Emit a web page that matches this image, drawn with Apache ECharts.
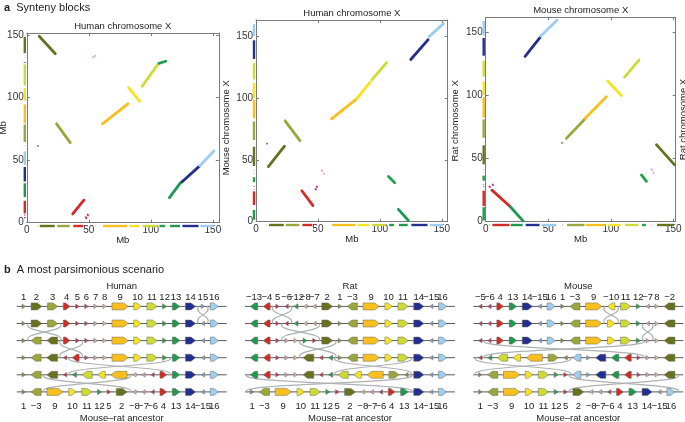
<!DOCTYPE html>
<html>
<head>
<meta charset="utf-8">
<script src="https://cdn.jsdelivr.net/npm/echarts@6/dist/echarts.min.js"></script>
<style>
html, body { margin: 0; padding: 0; background: #fff; }
#main { width: 685px; height: 422px; }
</style>
</head>
<body>
<div id="main"></div>
<script>
// synteny blocks 1..16 : drawn length in panel b (arbitrary units)
var blockLen = [10, 32, 30, 20, 10, 10, 10, 10, 48, 22, 30, 12, 22, 30, 10, 24];
var blockColor = ['#8e8a62', '#66721f', '#9ca63c', '#d22a26', '#cc2d4f', '#c4357c', '#d9a3c4', '#ebb8ae',
                  '#f8bf1f', '#f6e424', '#cedb34', '#22a04c', '#1e9a50', '#232f8e', '#8da2c8', '#9dcdf0'];

// panel a, dot plots: [block, x1, y1, x2, y2] in Mb
var humanMouse = [
    [2, 10, 149, 23, 135], [3, 24, 79, 35, 64], [4, 37, 7, 46, 18],
    [5, 47.5, 4.5, 48, 3.6], [6, 49, 6.5, 49.4, 5.8], [1, 8.7, 61.5, 9.1, 61.3],
    [7, 53.5, 132.5, 53.9, 132.1], [8, 55, 133.6, 55.4, 133.2],
    [9, 61, 79, 81.5, 95], [10, 82, 108, 91, 97], [11, 93, 109, 106, 127], [12, 106.5, 127.3, 112, 129],
    [13, 115, 20, 124, 32], [14, 125, 32.5, 139, 45], [16, 139.5, 45.5, 151, 57.5]
];
var humanRat = [
    [13, 115, 10, 123, 1], [4, 37, 25, 46, 13], [5, 48, 26.5, 48.4, 26], [6, 49, 28.5, 49.4, 28],
    [12, 107, 36.5, 112, 31.5], [7, 53, 41.5, 53.4, 41], [8, 54.6, 39, 55, 38.5],
    [2, 10, 44.5, 23, 61], [1, 8.6, 63, 9, 63.2], [3, 23.5, 81.5, 35.5, 65.5],
    [9, 61, 83, 81, 99], [10, 81.5, 99.5, 92, 112.5], [11, 93.5, 114.5, 105.5, 128.5],
    [14, 125, 131, 139, 147], [16, 139.8, 149.5, 151.4, 160]
];
var mouseRat = [
    [4, 5, 25, 19.5, 12], [13, 19.5, 12, 30, 0.5], [5, 3, 28, 3.4, 27.5], [6, 5.5, 29.5, 5.9, 29],
    [14, 31.5, 131, 43.5, 146], [16, 44, 147, 57, 159.5], [1, 61, 62.3, 61.4, 62.5],
    [3, 64.5, 66, 79.5, 81.5], [9, 79.5, 82, 96.5, 99], [10, 97.5, 111.5, 108.5, 100],
    [11, 111, 114.5, 122.5, 128], [12, 124.5, 37, 128.5, 32],
    [7, 132.5, 41.5, 132.9, 41], [8, 134, 39, 134.4, 38.5], [2, 136.5, 61, 151, 45]
];
var dotTicks = [0, 50, 100, 150];

// panel b, block order of each step (top row = species, bottom row = ancestor)
var humanRows = [
    [1, 2, 3, 4, 5, 6, 7, 8, 9, 10, 11, 12, 13, 14, 15, 16],
    [1, 2, 3, 4, 5, 6, 7, 8, 9, 10, 11, 12, 13, 14, -15, 16],
    [1, -3, -2, 4, 5, 6, 7, 8, 9, 10, 11, 12, 13, 14, -15, 16],
    [1, -3, -2, -5, -4, 6, 7, 8, 9, 10, 11, 12, 13, 14, -15, 16],
    [1, -3, -2, -5, -12, -11, -10, -9, -8, -7, -6, 4, 13, 14, -15, 16],
    [1, -3, 9, 10, 11, 12, 5, 2, -8, -7, -6, 4, 13, 14, -15, 16]
];
var ratRows = [
    [-13, -4, 5, -6, -12, -8, -7, 2, 1, -3, 9, 10, 11, 14, -15, 16],
    [-13, -4, 6, -5, -12, -8, -7, 2, 1, -3, 9, 10, 11, 14, -15, 16],
    [-13, -4, 6, 7, 8, 12, 5, 2, 1, -3, 9, 10, 11, 14, -15, 16],
    [-13, -4, 6, 7, 8, -2, -5, -12, 1, -3, 9, 10, 11, 14, -15, 16],
    [-13, -4, 6, 7, 8, -2, -5, -12, -11, -10, -9, 3, -1, 14, -15, 16],
    [1, -3, 9, 10, 11, 12, 5, 2, -8, -7, -6, 4, 13, 14, -15, 16]
];
var mouseRows = [
    [-5, -6, 4, 13, 14, -15, 16, 1, -3, 9, -10, 11, 12, -7, 8, -2],
    [-5, -6, 4, 13, 14, -15, 16, 1, -3, 9, 10, 11, 12, -7, 8, -2],
    [-5, -6, 4, 13, 14, -15, 16, 1, -3, 9, 10, 11, 12, 7, 8, -2],
    [-5, -12, -11, -10, -9, 3, -1, -16, 15, -14, -13, -4, 6, 7, 8, -2],
    [1, -3, 9, 10, 11, 12, 5, -16, 15, -14, -13, -4, 6, 7, 8, -2],
    [1, -3, 9, 10, 11, 12, 5, 2, -8, -7, -6, 4, 13, 14, -15, 16]
];

var FONT = 'Liberation Sans, Arial, sans-serif';
var lead = 16, gap = 17, tail = 25;
var rowTotal = lead + tail + blockLen.reduce(function (s, v) { return s + v + gap; }, 0) - gap;

function layoutRow(row) {
    var x = lead, out = [];
    row.forEach(function (id) {
        var w = blockLen[Math.abs(id) - 1];
        out.push([x, x + w, id]);
        x += w + gap;
    });
    return out;
}

function blockData(rows) {
    var data = [];
    rows.forEach(function (row, r) {
        layoutRow(row).forEach(function (b) {
            data.push([r + 1, b[0], b[1], b[2]]);
        });
    });
    return data;
}

// one inversion between two consecutive rows
function inversionData(rows) {
    var data = [];
    for (var r = 0; r < rows.length - 1; r++) {
        var a = rows[r], b = rows[r + 1], i = 0, j = a.length - 1;
        while (i < a.length && a[i] === b[i]) i++;
        while (j > i && a[j] === b[j]) j--;
        var lay = layoutRow(a);
        data.push([r + 1, lay[i][0] - gap / 2, lay[j][1] + gap / 2]);
    }
    return data;
}

function renderSeg(params, api) {
    var b = api.value(0);
    var p1 = api.coord([api.value(1), api.value(2)]);
    var p2 = api.coord([api.value(3), api.value(4)]);
    var o = api.coord([0, 0]);
    var col = blockColor[b - 1];
    var small = Math.abs(p2[0] - p1[0]) < 3;
    var xa = Math.min(p1[0], p2[0]), xb = Math.max(p1[0], p2[0]);
    var ya = Math.min(p1[1], p2[1]), yb = Math.max(p1[1], p2[1]);
    var stripW = small ? 1.6 : 2.4;
    return {
        type: 'group',
        children: [
            { type: 'line', shape: { x1: p1[0], y1: p1[1], x2: p2[0], y2: p2[1] },
              style: { stroke: col, lineWidth: small ? 1.8 : 2.8, lineCap: 'round' } },
            { type: 'line', shape: { x1: xa + (small ? 0 : 0.6), y1: o[1] + 3.3, x2: xb - (small ? 0 : 0.6), y2: o[1] + 3.3 },
              style: { stroke: col, lineWidth: stripW } },
            { type: 'line', shape: { x1: o[0] - 2, y1: ya + (small ? 0 : 0.6), x2: o[0] - 2, y2: yb - (small ? 0 : 0.6) },
              style: { stroke: col, lineWidth: stripW } }
        ]
    };
}

function renderBaseline(params, api) {
    var p0 = api.coord([api.value(1), api.value(0)]);
    var p1 = api.coord([api.value(2), api.value(0)]);
    return { type: 'line', shape: { x1: p0[0], y1: p0[1], x2: p1[0], y2: p1[1] },
             style: { stroke: '#5a5a5a', lineWidth: 1 } };
}

function renderInversion(params, api) {
    var r = api.value(0);
    var a = api.coord([api.value(1), r]), b = api.coord([api.value(2), r + 1]);
    var y1 = a[1], y2 = b[1], pa = a[0], pb = b[0];
    var ym = (y1 + y2) / 2;
    var s = 4 + 0.08 * (pb - pa);
    var st = { stroke: '#aeb0b3', lineWidth: 1.2, fill: null };
    return {
        type: 'group',
        children: [
            { type: 'bezierCurve', shape: { x1: pa, y1: y1, cpx1: pa - s, cpy1: ym, cpx2: pb + s, cpy2: ym, x2: pb, y2: y2 }, style: st },
            { type: 'bezierCurve', shape: { x1: pb, y1: y1, cpx1: pb + s, cpy1: ym, cpx2: pa - s, cpy2: ym, x2: pa, y2: y2 }, style: st }
        ]
    };
}

function renderBlock(params, api) {
    var row = api.value(0), id = api.value(3);
    var p0 = api.coord([api.value(1), row]), p1 = api.coord([api.value(2), row]);
    var x0 = p0[0], x1 = p1[0], y = p0[1];
    var w = x1 - x0;
    var h = w > 6 ? 7 : (w > 3.6 ? 5.4 : 4.6);
    var head = Math.min(w, 4.5);
    var pts;
    if (id > 0) {
        pts = [[x0, y - h / 2], [x1 - head, y - h / 2], [x1, y], [x1 - head, y + h / 2], [x0, y + h / 2]];
    } else {
        pts = [[x1, y - h / 2], [x0 + head, y - h / 2], [x0, y], [x0 + head, y + h / 2], [x1, y + h / 2]];
    }
    var children = [{
        type: 'polygon', shape: { points: pts },
        style: { fill: blockColor[Math.abs(id) - 1], stroke: '#6a6a5a', lineWidth: 0.5 }
    }];
    var label = (id < 0 ? '\u2212' : '') + Math.abs(id);
    if (row === 1) {
        children.push({ type: 'text', x: (x0 + x1) / 2, y: y - 9.5,
            style: { text: label, fill: '#222', font: '9.5px ' + FONT, align: 'center', verticalAlign: 'middle' } });
    }
    if (row === 6) {
        children.push({ type: 'text', x: (x0 + x1) / 2, y: y + 14.5,
            style: { text: label, fill: '#222', font: '9.5px ' + FONT, align: 'center', verticalAlign: 'middle' } });
    }
    return { type: 'group', children: children };
}

// layout of the six grids
var dotGrids = [
    { left: 26.8, top: 33, width: 192, height: 189.7, xMax: 154.8, yMax: 151.6, top_: 'Human chromosome X', right_: 'Mouse chromosome X', data: humanMouse, mb: true },
    { left: 256, top: 20, width: 191.7, height: 201.7, xMax: 154.8, yMax: 162.9, top_: 'Human chromosome X', right_: 'Rat chromosome X', data: humanRat, mb: false },
    { left: 485.7, top: 17.3, width: 190, height: 204.4, xMax: 151.9, yMax: 161.9, top_: 'Mouse chromosome X', right_: 'Rat chromosome X', data: mouseRat, mb: false }
];
var scenGrids = [
    { left: 16.7, name: 'Human', rows: humanRows },
    { left: 245, name: 'Rat', rows: ratRows },
    { left: 473.3, name: 'Mouse', rows: mouseRows }
];

var grid = [], xAxis = [], yAxis = [], series = [];
var frame = { onZero: false, lineStyle: { color: '#7a7a7a', width: 1 } };
var tick = { inside: true, length: 3, lineStyle: { color: '#7a7a7a' }, customValues: dotTicks };
var nameStyle = { fontSize: 9.5, color: '#222', fontFamily: FONT };

dotGrids.forEach(function (g, i) {
    grid.push({ left: g.left, top: g.top, width: g.width, height: g.height, containLabel: false, outerBoundsMode: 'none' });
    xAxis.push({ gridIndex: i, type: 'value', min: 0, max: g.xMax, position: 'bottom',
        name: 'Mb', nameLocation: 'middle', nameGap: 13, nameTextStyle: nameStyle, nameMoveOverlap: false,
        axisLine: frame, axisTick: tick, splitLine: { show: false },
        axisLabel: { customValues: dotTicks, fontSize: 10, color: '#333', margin: 3, fontFamily: FONT } });
    xAxis.push({ gridIndex: i, type: 'value', min: 0, max: g.xMax, position: 'top',
        name: g.top_, nameLocation: 'middle', nameGap: 1.5, nameTextStyle: nameStyle, nameMoveOverlap: false,
        axisLine: frame, axisTick: tick, axisLabel: { show: false }, splitLine: { show: false } });
    yAxis.push({ gridIndex: i, type: 'value', min: 0, max: g.yMax, position: 'left',
        name: g.mb ? 'Mb' : '', nameLocation: 'middle', nameGap: 18, nameRotate: 90, nameTextStyle: nameStyle,
        nameMoveOverlap: false,
        axisLine: frame, axisTick: tick, splitLine: { show: false },
        axisLabel: { customValues: dotTicks, fontSize: 10, color: '#333', margin: 3, fontFamily: FONT } });
    yAxis.push({ gridIndex: i, type: 'value', min: 0, max: g.yMax, position: 'right',
        name: g.right_, nameLocation: 'middle', nameGap: 3, nameRotate: 90, nameTextStyle: nameStyle,
        nameMoveOverlap: false,
        axisLine: frame, axisTick: tick, axisLabel: { show: false }, splitLine: { show: false } });
    series.push({ type: 'custom', xAxisIndex: 2 * i, yAxisIndex: 2 * i, renderItem: renderSeg,
        encode: { x: [1, 3], y: [2, 4] }, data: g.data, clip: false, silent: true });
});

var hidden = { axisLine: { show: false }, axisTick: { show: false }, axisLabel: { show: false }, splitLine: { show: false } };
scenGrids.forEach(function (g, p) {
    var gi = 3 + p;
    grid.push({ left: g.left, top: 297.85, width: 210, height: 102.6, containLabel: false, outerBoundsMode: 'none' });
    xAxis.push(Object.assign({ gridIndex: gi, type: 'value', min: 0, max: rowTotal, position: 'top',
        name: g.name, nameLocation: 'middle', nameGap: 6, nameTextStyle: { fontSize: 9.5, color: '#222', fontFamily: FONT } }, hidden));
    xAxis.push(Object.assign({ gridIndex: gi, type: 'value', min: 0, max: rowTotal, position: 'bottom',
        name: 'Mouse\u2013rat ancestor', nameLocation: 'middle', nameGap: 13, nameTextStyle: { fontSize: 9.5, color: '#222', fontFamily: FONT } }, hidden));
    yAxis.push(Object.assign({ gridIndex: gi, type: 'value', min: 0.5, max: 6.5, inverse: true }, hidden));
    var xi = 7 + 2 * p, yi = 6 + p;
    var base = g.rows.map(function (row, r) { return [r + 1, 0, rowTotal]; });
    series.push({ type: 'custom', xAxisIndex: xi, yAxisIndex: yi, renderItem: renderBaseline,
        encode: { x: [1, 2], y: 0 }, data: base, silent: true, z: 1 });
    series.push({ type: 'custom', xAxisIndex: xi, yAxisIndex: yi, renderItem: renderInversion,
        encode: { x: [1, 2], y: 0 }, data: inversionData(g.rows), silent: true, z: 2 });
    series.push({ type: 'custom', xAxisIndex: xi, yAxisIndex: yi, renderItem: renderBlock,
        encode: { x: [1, 2], y: 0 }, data: blockData(g.rows), silent: true, z: 3 });
});

var titleStyle = { fontSize: 11, fontWeight: 'normal', color: '#222', fontFamily: FONT,
    rich: { b: { fontSize: 11, fontWeight: 'bold', color: '#222', fontFamily: FONT } } };

var chart = echarts.init(document.getElementById('main'), null, { renderer: 'canvas' });
chart.setOption({
    animation: false,
    backgroundColor: '#fff',
    title: [
        { text: '{b|a}  Synteny blocks', left: 2, top: 0, padding: 2, textStyle: titleStyle },
        { text: '{b|b}  A most parsimonious scenario', left: 2, top: 262, padding: 2, textStyle: titleStyle }
    ],
    grid: grid,
    xAxis: xAxis,
    yAxis: yAxis,
    series: series
});
</script>
</body>
</html>
